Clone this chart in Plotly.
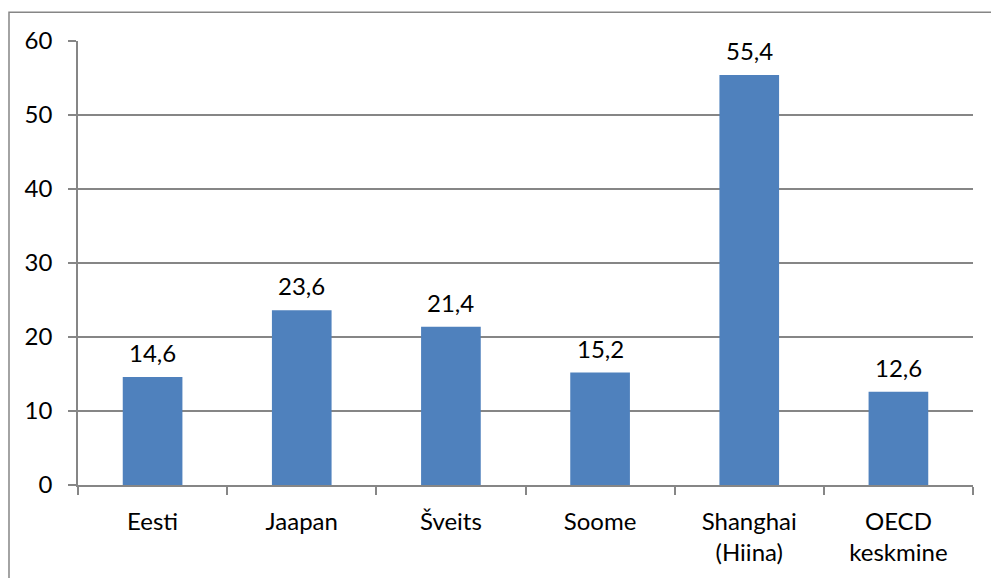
import plotly.graph_objects as go

categories = ["Eesti", "Jaapan", "Šveits", "Soome", "Shanghai<br>(Hiina)", "OECD<br>keskmine"]
values = [14.6, 23.6, 21.4, 15.2, 55.4, 12.6]
y_ticks = [0, 10, 20, 30, 40, 50, 60]

FONT = "Lato"
FS = 24
GRAY = "#868686"

fig = go.Figure()
fig.add_trace(go.Bar(
    x=categories, y=values,
    marker=dict(color="#4F81BD", line=dict(width=0)),
    width=0.4,
    hoverinfo="skip",
))

for c, v in zip(categories, values):
    fig.add_annotation(
        x=c, y=v, xref="x", yref="y",
        text=f"{v:.1f}".replace(".", ","),
        showarrow=False, yanchor="bottom", yshift=8,
        font=dict(family=FONT, size=FS, color="black"),
    )

fig.add_shape(type="rect", xref="paper", yref="paper",
              x0=-0.0771, x1=1.1, y0=-0.5, y1=1.0647,
              line=dict(color=GRAY, width=1.5), fillcolor="rgba(0,0,0,0)", layer="below")

fig.update_layout(
    width=991, height=578,
    margin=dict(l=78, r=18, t=41, b=89),
    paper_bgcolor="white", plot_bgcolor="white",
    font=dict(family=FONT, size=FS, color="black"),
    showlegend=False,
    bargap=0.6,
    xaxis=dict(
        showline=True, linecolor=GRAY, linewidth=1.5,
        ticks="outside", tickson="boundaries", ticklen=8, tickcolor=GRAY, tickwidth=1.5,
        showgrid=False, ticklabelstandoff=14,
    ),
    yaxis=dict(
        range=[0, 60], tickvals=y_ticks, ticktext=[str(t) for t in y_ticks],
        showline=True, linecolor=GRAY, linewidth=1.5,
        ticks="outside", ticklen=8, tickcolor=GRAY, tickwidth=1.5,
        showgrid=True, gridcolor=GRAY, gridwidth=1.5,
        zeroline=False, ticklabelstandoff=11,
    ),
)

fig.write_html("out.html", config={"displayModeBar": False},
               post_script="document.body.style.margin='0';document.body.style.overflow='hidden';")
